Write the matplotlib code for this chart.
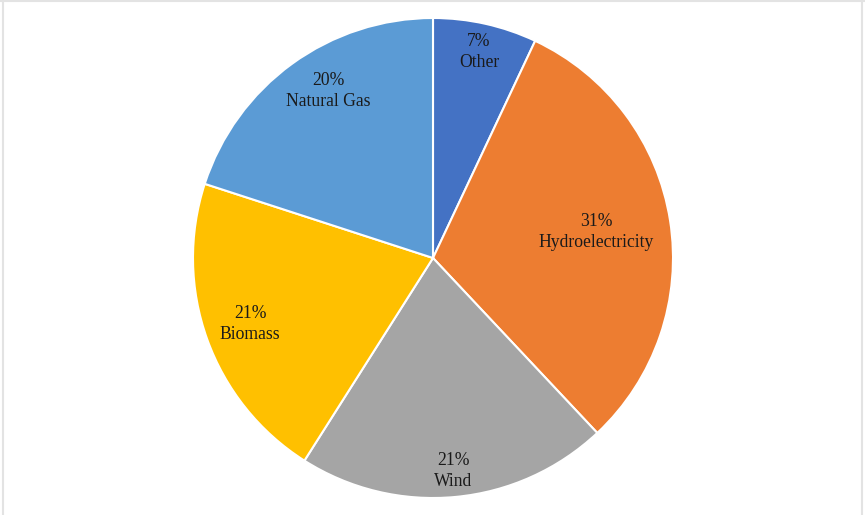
import matplotlib
matplotlib.use("Agg")
import matplotlib.pyplot as plt
import numpy as np

# energy mix shares, clockwise from 12 o'clock
sources = ["Other", "Hydroelectricity", "Wind", "Biomass", "Natural Gas"]
shares = [7, 31, 21, 21, 20]
colors = ["#4472C4", "#ED7D31", "#A5A5A5", "#FFC000", "#5B9BD5"]
# label placement: fraction of radius, and angular nudge in degrees
label_r = [0.88, 0.69, 0.89, 0.81, 0.82]
label_nudge = [0, 0, 0, 0, -4]

plt.rcParams['font.family'] = ['Liberation Serif', 'DejaVu Serif']

fig = plt.figure(figsize=(8.65, 5.15), dpi=100)
ax = fig.add_axes([193 / 865, 17 / 515, 480 / 865, 480 / 515])

wedges, _ = ax.pie(shares, colors=colors, startangle=90, counterclock=False,
                   radius=1, wedgeprops=dict(edgecolor="white", linewidth=1.5))

for w, name, val, r, dn in zip(wedges, sources, shares, label_r, label_nudge):
    ang = np.deg2rad((w.theta1 + w.theta2) / 2 + dn)
    ax.text(r * np.cos(ang), r * np.sin(ang), f"{val}%\n{name}",
            ha="center", va="center", fontsize=12.7, color="#1a1a1a",
            linespacing=1.3)

ax.set_xlim(-1, 1)
ax.set_ylim(-1, 1)
ax.set_aspect("equal")
ax.axis("off")

# thin frame around the chart area
for x0, y0, x1, y1 in [(3 / 865, 0, 3 / 865, 1), (0, 1 - 1 / 515, 1, 1 - 1 / 515),
                       (862 / 865, 0, 862 / 865, 1)]:
    fig.add_artist(plt.Line2D([x0, x1], [y0, y1], color="#e3e3e3", lw=1.5))

fig.savefig("out.png", dpi=100)
